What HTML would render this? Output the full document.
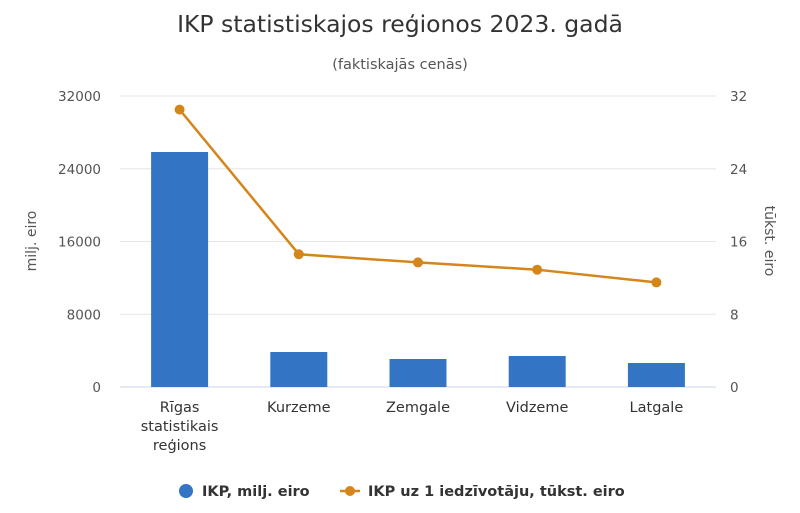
<!DOCTYPE html>
<html><head><meta charset="utf-8"><style>
body{margin:0;background:#fff;font-family:"DejaVu Sans","Liberation Sans",sans-serif;}
svg text{font-family:"DejaVu Sans","Liberation Sans",sans-serif;}
</style></head><body>
<svg id="c" width="800" height="509">
<text x="400" y="32" text-anchor="middle" font-size="23.5" fill="#333">IKP statistiskajos reģionos 2023. gadā</text>
<text x="400" y="69" text-anchor="middle" font-size="14.5" fill="#555">(faktiskajās cenās)</text>
<text transform="translate(36,241) rotate(-90)" text-anchor="middle" font-size="14" fill="#555">milj. eiro</text>
<text transform="translate(765,241) rotate(90)" text-anchor="middle" font-size="14" fill="#555">tūkst. eiro</text>
<g id="grid"></g><g id="bars"></g><g id="line"></g><g id="labels"></g>
<g>
<g><circle cx="186" cy="491" r="7" fill="#3374c4"/><text x="202" y="496" font-size="14.5" font-weight="bold" fill="#333">IKP, milj. eiro</text></g>
<g><line x1="340" y1="491" x2="360" y2="491" stroke="#d4861a" stroke-width="2.5"/><circle cx="350" cy="491" r="5" fill="#d4861a"/><text x="368" y="496" font-size="14.5" font-weight="bold" fill="#333">IKP uz 1 iedzīvotāju, tūkst. eiro</text></g>
</g>
</svg>
<script>
const categories=[["Rīgas","statistikais","reģions"],["Kurzeme"],["Zemgale"],["Vidzeme"],["Latgale"]];
const gdp=[25840,3850,3080,3410,2640];
const gdpPerCapita=[30.5,14.6,13.7,12.9,11.5];
const leftTicks=[0,8000,16000,24000,32000];
const rightTicks=[0,8,16,24,32];
const NS="http://www.w3.org/2000/svg";
const X0=120,X1=716,Y0=387,Y1=96;
const yL=v=>Y0-(v/32000)*(Y0-Y1);
const yR=v=>Y0-(v/32)*(Y0-Y1);
const bw=(X1-X0)/categories.length;
const xc=i=>X0+bw*(i+0.5);
function mk(t,a,p){const e=document.createElementNS(NS,t);for(const k in a)e.setAttribute(k,a[k]);p.appendChild(e);return e;}
const grid=document.getElementById('grid'),bars=document.getElementById('bars'),line=document.getElementById('line'),labels=document.getElementById('labels');
leftTicks.forEach((v,i)=>{
 const l=mk('line',{x1:X0,x2:X1,y1:yL(v),y2:yL(v),stroke:i==0?'#ccd6eb':'#e6e6e6','stroke-width':1},grid);
 
 
 const t=mk('text',{x:101,y:yL(v)+5,'text-anchor':'end','font-size':13.5,fill:'#555'},labels);t.textContent=v;
 
 
});
rightTicks.forEach(v=>{
 const t=mk('text',{x:730,y:yR(v)+5,'font-size':13.5,fill:'#555'},labels);t.textContent=v;
 
 
});
gdp.forEach((v,i)=>{
 const r=mk('rect',{x:xc(i)-28.5,y:yL(v),width:57,height:Y0-yL(v),fill:'#3374c4'},bars);
 
 
});
const pl=mk('polyline',{points:gdpPerCapita.map((v,i)=>xc(i)+','+yR(v)).join(' '),fill:'none',stroke:'#d4861a','stroke-width':2.5},line);


gdpPerCapita.forEach((v,i)=>{
 const c=mk('circle',{cx:xc(i),cy:yR(v),r:5,fill:'#d4861a'},line);
 
 
});
categories.forEach((lines,i)=>{
 lines.forEach((s,j)=>{
  const t=mk('text',{x:xc(i),y:412+j*19,'text-anchor':'middle','font-size':14.5,fill:'#333'},labels);t.textContent=s;
  
  
 });
});
</script>
</body></html>
